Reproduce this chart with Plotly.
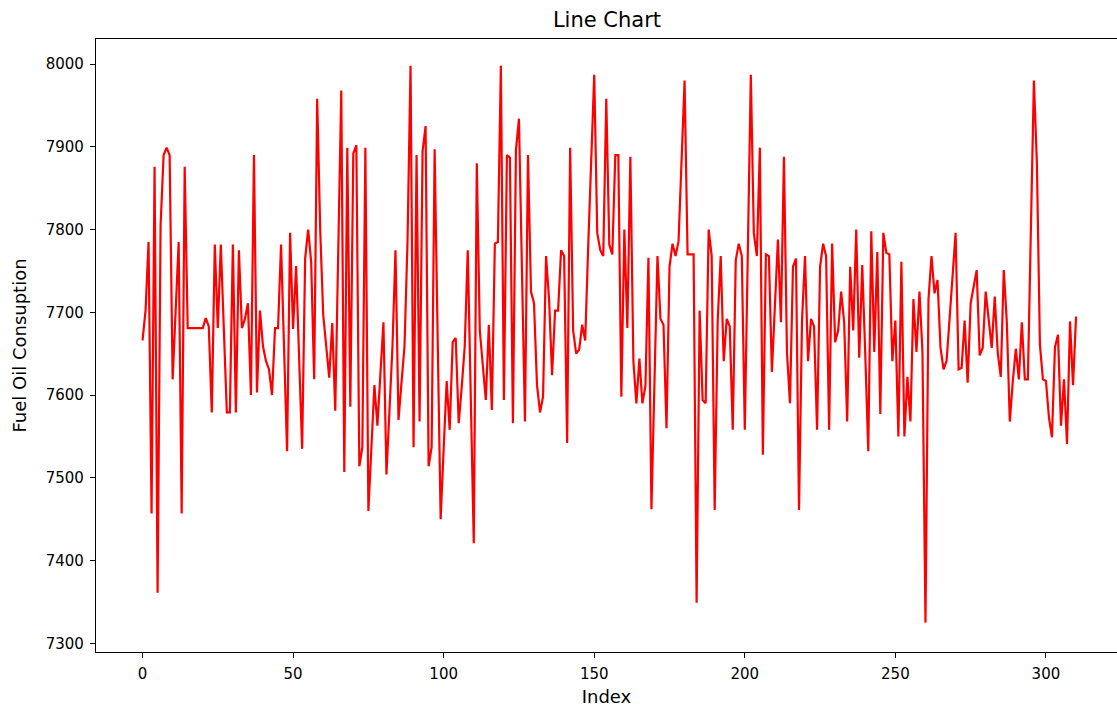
import plotly.graph_objects as go

values = [
    7666, 7702, 7785, 7457, 7876, 7361, 7805, 7890, 7899, 7890,
    7619, 7700, 7785, 7457, 7876, 7681, 7681, 7681, 7681, 7681,
    7681, 7693, 7683, 7579, 7782, 7681, 7782, 7680, 7579, 7579,
    7782, 7579, 7775, 7681, 7692, 7711, 7600, 7890, 7603, 7702,
    7659, 7641, 7631, 7600, 7681, 7681, 7782, 7657, 7532, 7796,
    7680, 7756, 7645, 7535, 7765, 7800, 7761, 7619, 7958, 7800,
    7697, 7660, 7621, 7687, 7581, 7775, 7968, 7507, 7899, 7586,
    7892, 7902, 7514, 7537, 7899, 7460, 7536, 7612, 7563, 7625,
    7688, 7504, 7580, 7659, 7775, 7570, 7615, 7659, 7786, 7998,
    7537, 7890, 7568, 7895, 7925, 7514, 7537, 7897, 7670, 7450,
    7535, 7617, 7558, 7664, 7669, 7566, 7610, 7659, 7775, 7600,
    7421, 7880, 7678, 7636, 7594, 7685, 7582, 7783, 7785, 7998,
    7594, 7890, 7887, 7566, 7896, 7934, 7750, 7568, 7890, 7725,
    7711, 7612, 7579, 7598, 7768, 7716, 7624, 7702, 7702, 7775,
    7768, 7542, 7899, 7678, 7650, 7655, 7685, 7666, 7780, 7885,
    7987, 7796, 7775, 7768, 7958, 7782, 7770, 7890, 7890, 7598,
    7800, 7681, 7888, 7641, 7590, 7644, 7590, 7611, 7766, 7462,
    7620, 7768, 7692, 7685, 7560, 7755, 7783, 7768, 7786, 7880,
    7980, 7770, 7770, 7770, 7349, 7702, 7594, 7590, 7800, 7768,
    7461, 7690, 7768, 7641, 7692, 7683, 7558, 7763, 7783, 7768,
    7558, 7770, 7987, 7796, 7768, 7899, 7528, 7770, 7768, 7628,
    7705, 7788, 7688, 7888, 7652, 7590, 7755, 7765, 7461, 7690,
    7768, 7641, 7692, 7683, 7558, 7755, 7783, 7768, 7558, 7783,
    7664, 7678, 7725, 7688, 7568, 7755, 7678, 7800, 7645, 7757,
    7650, 7532, 7798, 7652, 7773, 7577, 7796, 7772, 7770, 7641,
    7690, 7550, 7761, 7550, 7622, 7568, 7716, 7652, 7725, 7652,
    7325, 7716, 7768, 7723, 7739, 7657, 7631, 7641, 7692, 7744,
    7796, 7631, 7633, 7690, 7615, 7711, 7731, 7751, 7648, 7657,
    7725, 7690, 7657, 7719, 7651, 7622, 7751, 7689, 7568, 7617,
    7656, 7619, 7688, 7619, 7619, 7800, 7980, 7880, 7661, 7619,
    7617, 7573, 7549, 7658, 7673, 7563, 7619, 7541, 7689, 7612,
    7695,
]
index = list(range(len(values)))

x_ticks = [0, 50, 100, 150, 200, 250, 300]
y_ticks = [7300, 7400, 7500, 7600, 7700, 7800, 7900, 8000]

title_text = "Line Chart"
x_label = "Index"
y_label = "Fuel Oil Consuption"

fig = go.Figure()
fig.add_trace(go.Scatter(x=index, y=values, mode="lines",
                         line=dict(color="#ff0000", width=2.2),
                         hoverinfo="skip"))

font_family = "DejaVu Sans"
fig.update_layout(
    width=1117, height=708,
    margin=dict(l=96, r=0, t=39, b=56),
    paper_bgcolor="white", plot_bgcolor="white",
    showlegend=False,
    font=dict(family=font_family, color="black", size=15),
    title=dict(text=title_text, x=607 / 1117, xanchor="center",
               y=1 - 20 / 708, yanchor="middle", yref="container",
               font=dict(size=21, family=font_family, color="black")),
)
fig.update_xaxes(
    range=[-15.45, 323.6], tickvals=x_ticks, ticktext=[str(t) for t in x_ticks],
    showgrid=False, zeroline=False, showline=True, linecolor="black", linewidth=1.2,
    mirror=True, ticks="outside", ticklen=5, tickwidth=1.2, tickcolor="black",
    tickfont=dict(size=15), ticklabelstandoff=3,
    title=dict(text=x_label, font=dict(size=18), standoff=8),
)
fig.update_yaxes(
    range=[7289.5, 8030.3], tickvals=y_ticks, ticktext=[str(t) for t in y_ticks],
    showgrid=False, zeroline=False, showline=True, linecolor="black", linewidth=1.2,
    mirror=False, ticks="outside", ticklen=5, tickwidth=1.2, tickcolor="black",
    tickfont=dict(size=15), ticklabelstandoff=3,
    title=dict(text=y_label, font=dict(size=18), standoff=14),
)

fig.write_html("out.html")
